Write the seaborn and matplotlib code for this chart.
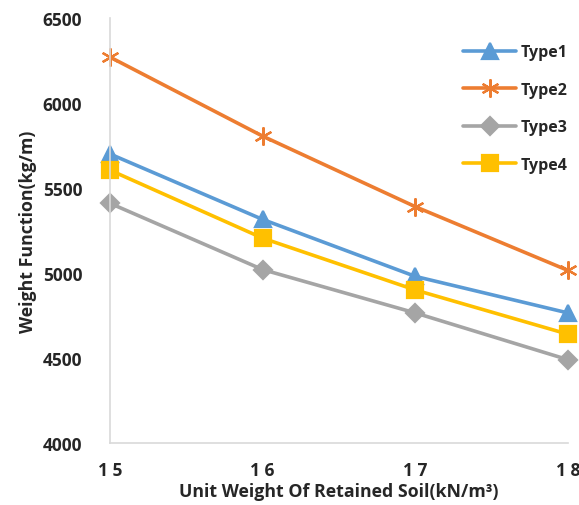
import matplotlib
matplotlib.use("Agg")
import matplotlib.pyplot as plt
import seaborn as sns
import pandas as pd

# Unit weight of retained soil (kN/m3)
unit_weight = [15, 16, 17, 18]
x_tick_labels = ["1 5", "1 6", "1 7", "1 8"]

# Weight function (kg/m) for each wall type
type1 = [5700, 5315, 4980, 4765]
type2 = [6270, 5805, 5390, 5015]
type3 = [5410, 5020, 4765, 4490]
type4 = [5605, 5205, 4900, 4640]

series_names = ["Type1", "Type2", "Type3", "Type4"]
colors = ["#5B9BD5", "#ED7D31", "#A5A5A5", "#FFC000"]
markers = ["^", (6, 2, 0), "D", "s"]
marker_sizes = [11, 13, 9, 12]

frames = []
for name, vals in zip(series_names, [type1, type2, type3, type4]):
    frames.append(pd.DataFrame({"unit_weight": unit_weight, "weight": vals, "type": name}))
df = pd.concat(frames, ignore_index=True)

sns.set_theme(style="white")
plt.rcParams["font.family"] = ["Open Sans", "DejaVu Sans"]
plt.rcParams["font.weight"] = "bold"

fig = plt.figure(figsize=(5.79, 5.06), dpi=100)
ax = fig.add_axes([110 / 579, 1 - 444 / 506, (568 - 110) / 579, (444 - 19) / 506])

for name, color, mk, ms in zip(series_names, colors, markers, marker_sizes):
    sub = df[df["type"] == name]
    sns.lineplot(data=sub, x="unit_weight", y="weight", ax=ax, color=color,
                 linewidth=2.6, marker=mk, markersize=ms, markeredgecolor=color,
                 markeredgewidth=1.6, label=name, clip_on=False)

ax.set_xlim(15, 18)
ax.set_ylim(4000, 6500)
ax.set_xticks(unit_weight)
ax.set_xticklabels(x_tick_labels)
ax.set_yticks([4000, 4500, 5000, 5500, 6000, 6500])
ax.tick_params(axis="both", length=0, labelsize=12.5)
ax.tick_params(axis="x", pad=13)
ax.tick_params(axis="y", pad=20)
for lbl in ax.get_xticklabels() + ax.get_yticklabels():
    lbl.set_fontweight("bold")

for side in ["top", "right"]:
    ax.spines[side].set_visible(False)
for side in ["left", "bottom"]:
    ax.spines[side].set_color("#D9D9D9")
    ax.spines[side].set_linewidth(1.2)

ax.set_xlabel("Unit Weight Of Retained Soil(kN/m\u00b3)", fontsize=12.8, fontweight="bold", labelpad=2)
ax.set_ylabel("Weight Function(kg/m)", fontsize=12.8, fontweight="bold", labelpad=4)

leg = ax.legend(loc="upper left", bbox_to_anchor=(0.74, 0.972), frameon=False,
                fontsize=11.5, handlelength=3.3, labelspacing=1.35, handletextpad=0.3)
for t in leg.get_texts():
    t.set_fontweight("bold")

fig.savefig("out.png", dpi=100)
